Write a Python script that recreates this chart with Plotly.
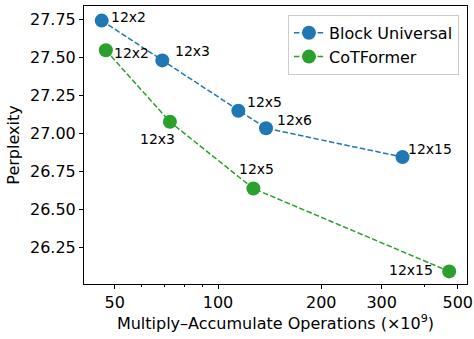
import numpy as np
import plotly.graph_objects as go

# Data
bu_labels = ["12x2", "12x3", "12x5", "12x6", "12x15"]
bu_macs = [45.8, 68.8, 114.6, 138.0, 345.0]
bu_ppl = [27.74, 27.478, 27.147, 27.032, 26.842]

cot_labels = ["12x2", "12x3", "12x5", "12x15"]
cot_macs = [47.1, 72.4, 126.8, 472.0]
cot_ppl = [27.545, 27.074, 26.635, 26.09]

x_tickvals = [50, 100, 200, 300, 500]
y_tickvals = [26.25, 26.50, 26.75, 27.00, 27.25, 27.50, 27.75]

BLUE = "#1f77b4"
GREEN = "#2ca02c"
FONT = "DejaVu Sans"

fig = go.Figure()
fig.add_trace(go.Scatter(
    x=bu_macs, y=bu_ppl, mode="lines+markers", name="Block Universal",
    line=dict(color=BLUE, width=1.5, dash="5.5px,2.4px"),
    marker=dict(color=BLUE, size=14),
))
fig.add_trace(go.Scatter(
    x=cot_macs, y=cot_ppl, mode="lines+markers", name="CoTFormer",
    line=dict(color=GREEN, width=1.5, dash="5.5px,2.4px"),
    marker=dict(color=GREEN, size=14),
))

# label placements (anchor, xshift, yshift)
bu_pos = [("left", 7, 4), ("left", 11, 9), ("left", 7, 9), ("left", 9, 8), ("left", 4, 8)]
cot_pos = [("left", 6, -3), ("right", 7, -17), ("center", 3, 20), ("right", -14, 1)]

annotations = []
for lab, xv, yv, (anc, xs, ys) in zip(bu_labels, bu_macs, bu_ppl, bu_pos):
    annotations.append(dict(x=np.log10(xv), y=yv, text=lab, showarrow=False,
                            xanchor=anc, yanchor="middle", xshift=xs, yshift=ys,
                            font=dict(size=14, color="black", family=FONT)))
for lab, xv, yv, (anc, xs, ys) in zip(cot_labels, cot_macs, cot_ppl, cot_pos):
    annotations.append(dict(x=np.log10(xv), y=yv, text=lab, showarrow=False,
                            xanchor=anc, yanchor="middle", xshift=xs, yshift=ys,
                            font=dict(size=14, color="black", family=FONT)))

fig.update_layout(
    width=474, height=339,
    margin=dict(l=84, r=7, t=6, b=55),
    paper_bgcolor="white", plot_bgcolor="white",
    font=dict(family=FONT, size=16, color="black"),
    showlegend=True,
    legend=dict(x=0.979, y=0.968, xanchor="right", yanchor="top",
                bordercolor="#cccccc", borderwidth=1, bgcolor="rgba(255,255,255,0.8)",
                font=dict(size=16, family=FONT), tracegroupgap=0),
    annotations=annotations,
    xaxis=dict(
        type="log", range=[np.log10(40.67), np.log10(532)], automargin=False,
        tickvals=x_tickvals, ticktext=[str(v) for v in x_tickvals],
        ticks="outside", ticklen=4, tickwidth=1, tickcolor="black",
        showgrid=False, zeroline=False,
        showline=True, linecolor="black", linewidth=1, mirror=True,
        minor=dict(tickvals=[60, 70, 80, 90, 400], ticks="outside", ticklen=2,
                   tickwidth=0.8, tickcolor="black", showgrid=False),
        title=dict(text="Multiply\u2013Accumulate Operations (\u00d710<sup>9</sup>)",
                   font=dict(size=16), standoff=6),
        tickfont=dict(size=16),
    ),
    yaxis=dict(
        range=[26.007, 27.836], automargin=False,
        tickvals=y_tickvals, ticktext=[f"{v:.2f}" for v in y_tickvals],
        ticks="outside", ticklen=4, tickwidth=1, tickcolor="black",
        showgrid=False, zeroline=False,
        showline=True, linecolor="black", linewidth=1, mirror=True,
        title=dict(text="Perplexity", font=dict(size=16), standoff=6),
        tickfont=dict(size=16),
    ),
)

fig.write_html("out.html")
